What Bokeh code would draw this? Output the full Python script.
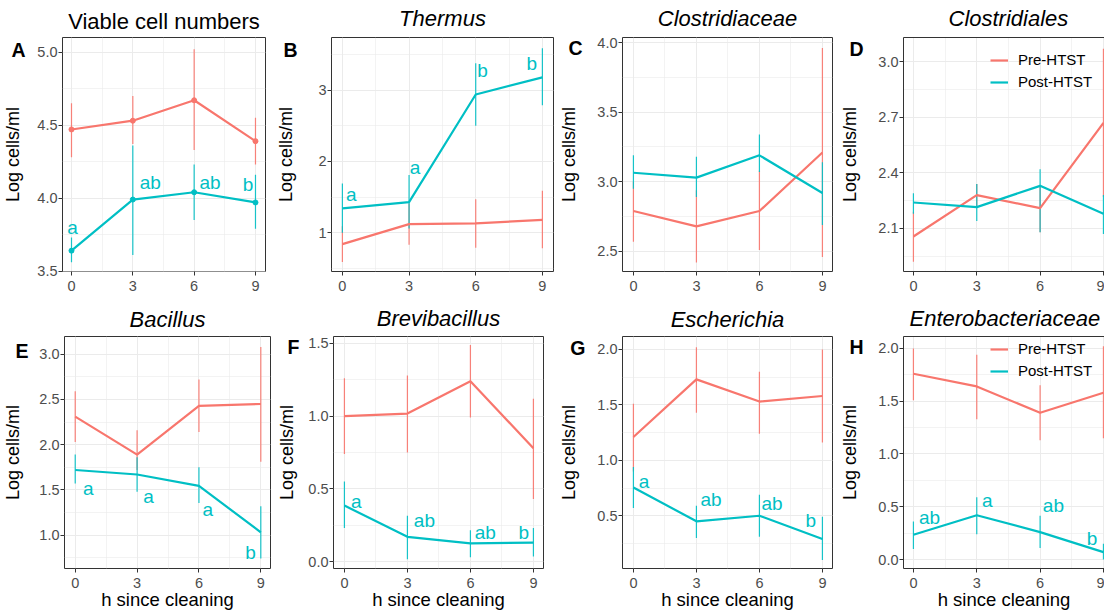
from bokeh.plotting import figure
from bokeh.layouts import column, row
from bokeh.models import (FixedTicker, PrintfTickFormatter, Range1d, Legend, LegendItem,
                          ColumnDataSource, LinearAxis, CustomJSTickFormatter)
from bokeh.core.properties import value
from bokeh.embed import file_html
from bokeh.resources import INLINE

FONT = "Liberation Sans"
PRE_COLOR = "#F8766D"
POST_COLOR = "#00BFC4"
GROUPS = ["Pre-HTST", "Post-HTST"]

# ---------------- data ----------------
hours = [0, 3, 6, 9]
hour_minor = [1.5, 4.5, 7.5]

titles = ["Viable cell numbers", "Thermus", "Clostridiaceae", "Clostridiales",
          "Bacillus", "Brevibacillus", "Escherichia", "Enterobacteriaceae"]
panel_letters = ["A", "B", "C", "D", "E", "F", "G", "H"]

# A  Viable cell numbers
viable_pre = [4.47, 4.53, 4.67, 4.39]
viable_pre_lo = [4.28, 4.37, 4.33, 4.23]
viable_pre_hi = [4.65, 4.70, 5.02, 4.55]
viable_post = [3.64, 3.99, 4.04, 3.97]
viable_post_lo = [3.56, 3.61, 3.85, 3.79]
viable_post_hi = [3.73, 4.36, 4.23, 4.16]
viable_letters = ["a", "ab", "ab", "b"]
viable_letter_x = [0.05, 3.85, 6.78, 8.63]
viable_letter_y = [3.80, 4.11, 4.11, 4.09]
viable_yticks = [3.5, 4.0, 4.5, 5.0]

# B  Thermus
thermus_pre = [0.84, 1.12, 1.13, 1.18]
thermus_pre_lo = [0.59, 0.83, 0.79, 0.78]
thermus_pre_hi = [1.09, 1.41, 1.47, 1.59]
thermus_post = [1.34, 1.43, 2.94, 3.18]
thermus_post_lo = [1.00, 1.06, 2.50, 2.79]
thermus_post_hi = [1.69, 1.81, 3.38, 3.59]
thermus_letters = ["a", "a", "b", "b"]
thermus_letter_x = [0.40, 3.27, 6.31, 8.52]
thermus_letter_y = [1.54, 1.91, 3.27, 3.38]
thermus_yticks = [1, 2, 3]

# C  Clostridiaceae
clostridiaceae_pre = [2.79, 2.68, 2.79, 3.21]
clostridiaceae_pre_lo = [2.57, 2.42, 2.51, 2.46]
clostridiaceae_pre_hi = [3.00, 2.94, 3.08, 3.96]
clostridiaceae_post = [3.065, 3.03, 3.19, 2.92]
clostridiaceae_post_lo = [2.95, 2.89, 3.07, 2.69]
clostridiaceae_post_hi = [3.19, 3.18, 3.34, 3.14]
clostridiaceae_yticks = [2.5, 3.0, 3.5, 4.0]

# D  Clostridiales
clostridiales_pre = [2.057, 2.28, 2.21, 2.67]
clostridiales_pre_lo = [1.92, 2.215, 2.08, 2.27]
clostridiales_pre_hi = [2.19, 2.34, 2.33, 3.07]
clostridiales_post = [2.24, 2.215, 2.33, 2.18]
clostridiales_post_lo = [2.18, 2.14, 2.08, 2.07]
clostridiales_post_hi = [2.29, 2.34, 2.42, 2.28]
clostridiales_yticks = [2.1, 2.4, 2.7, 3.0]

# E  Bacillus
bacillus_pre = [2.31, 1.89, 2.43, 2.45]
bacillus_pre_lo = [2.03, 1.72, 2.14, 1.81]
bacillus_pre_hi = [2.59, 2.16, 2.72, 3.08]
bacillus_post = [1.72, 1.67, 1.545, 1.03]
bacillus_post_lo = [1.57, 1.48, 1.355, 0.74]
bacillus_post_hi = [1.89, 1.86, 1.75, 1.32]
bacillus_letters = ["a", "a", "a", "b"]
bacillus_letter_x = [0.63, 3.55, 6.43, 8.50]
bacillus_letter_y = [1.51, 1.43, 1.28, 0.81]
bacillus_yticks = [1.0, 1.5, 2.0, 2.5, 3.0]

# F  Brevibacillus
brevibacillus_pre = [1.00, 1.018, 1.24, 0.78]
brevibacillus_pre_lo = [0.74, 0.75, 0.99, 0.43]
brevibacillus_pre_hi = [1.26, 1.28, 1.49, 1.12]
brevibacillus_post = [0.385, 0.17, 0.125, 0.13]
brevibacillus_post_lo = [0.23, 0.015, 0.03, 0.035]
brevibacillus_post_hi = [0.55, 0.315, 0.215, 0.23]
brevibacillus_letters = ["a", "ab", "ab", "b"]
brevibacillus_letter_x = [0.57, 3.81, 6.71, 8.54]
brevibacillus_letter_y = [0.41, 0.28, 0.20, 0.20]
brevibacillus_yticks = [0.0, 0.5, 1.0, 1.5]

# G  Escherichia
escherichia_pre = [1.21, 1.73, 1.53, 1.58]
escherichia_pre_lo = [0.90, 1.43, 1.24, 1.16]
escherichia_pre_hi = [1.51, 2.02, 1.80, 2.00]
escherichia_post = [0.755, 0.45, 0.50, 0.29]
escherichia_post_lo = [0.57, 0.30, 0.31, 0.10]
escherichia_post_hi = [0.94, 0.59, 0.69, 0.49]
escherichia_letters = ["a", "ab", "ab", "b"]
escherichia_letter_x = [0.50, 3.70, 6.60, 8.44]
escherichia_letter_y = [0.81, 0.65, 0.61, 0.46]
escherichia_yticks = [0.5, 1.0, 1.5, 2.0]

# H  Enterobacteriaceae
entero_pre = [1.76, 1.64, 1.39, 1.58]
entero_pre_lo = [1.51, 1.33, 1.13, 1.15]
entero_pre_hi = [2.00, 1.94, 1.65, 2.02]
entero_post = [0.235, 0.42, 0.26, 0.07]
entero_post_lo = [0.10, 0.24, 0.11, 0.00]
entero_post_hi = [0.36, 0.59, 0.415, 0.15]
entero_letters = ["ab", "a", "ab", "b"]
entero_letter_x = [0.76, 3.50, 6.63, 8.46]
entero_letter_y = [0.40, 0.56, 0.51, 0.20]
entero_yticks = [0.0, 0.5, 1.0, 1.5, 2.0]

panels = [
    dict(pre=(viable_pre, viable_pre_lo, viable_pre_hi),
         post=(viable_post, viable_post_lo, viable_post_hi),
         letters=(viable_letters, viable_letter_x, viable_letter_y),
         yticks=viable_yticks, fmt="%.1f", points=True),
    dict(pre=(thermus_pre, thermus_pre_lo, thermus_pre_hi),
         post=(thermus_post, thermus_post_lo, thermus_post_hi),
         letters=(thermus_letters, thermus_letter_x, thermus_letter_y),
         yticks=thermus_yticks, fmt="%d", points=False),
    dict(pre=(clostridiaceae_pre, clostridiaceae_pre_lo, clostridiaceae_pre_hi),
         post=(clostridiaceae_post, clostridiaceae_post_lo, clostridiaceae_post_hi),
         letters=None, yticks=clostridiaceae_yticks, fmt="%.1f", points=False),
    dict(pre=(clostridiales_pre, clostridiales_pre_lo, clostridiales_pre_hi),
         post=(clostridiales_post, clostridiales_post_lo, clostridiales_post_hi),
         letters=None, yticks=clostridiales_yticks, fmt="%.1f", points=False),
    dict(pre=(bacillus_pre, bacillus_pre_lo, bacillus_pre_hi),
         post=(bacillus_post, bacillus_post_lo, bacillus_post_hi),
         letters=(bacillus_letters, bacillus_letter_x, bacillus_letter_y),
         yticks=bacillus_yticks, fmt="%.1f", points=False),
    dict(pre=(brevibacillus_pre, brevibacillus_pre_lo, brevibacillus_pre_hi),
         post=(brevibacillus_post, brevibacillus_post_lo, brevibacillus_post_hi),
         letters=(brevibacillus_letters, brevibacillus_letter_x, brevibacillus_letter_y),
         yticks=brevibacillus_yticks, fmt="%.1f", points=False),
    dict(pre=(escherichia_pre, escherichia_pre_lo, escherichia_pre_hi),
         post=(escherichia_post, escherichia_post_lo, escherichia_post_hi),
         letters=(escherichia_letters, escherichia_letter_x, escherichia_letter_y),
         yticks=escherichia_yticks, fmt="%.1f", points=False),
    dict(pre=(entero_pre, entero_pre_lo, entero_pre_hi),
         post=(entero_post, entero_post_lo, entero_post_hi),
         letters=(entero_letters, entero_letter_x, entero_letter_y),
         yticks=entero_yticks, fmt="%.1f", points=False),
]

# ---------------- layout (sizes / positions) ----------------
# box = (width, height, border_left, border_right, border_top, border_bottom)
# ts = title standoff, lst = panel-letter standoff, ls = y-title standoff, dy = letter drop
geometry = [
    dict(box=(270, 298, 61, 5, 34, 25), xr=(-0.44, 9.49), yr=(3.497, 5.10), ts=4, lst=9, ls=-15, dy=12.5),
    dict(box=(286, 298, 61, 3, 36, 27), xr=(-0.49, 9.50), yr=(0.455, 3.74), ts=10, lst=18, ls=-16, dy=12.3),
    dict(box=(280, 298, 66, 4, 37, 27), xr=(-0.52, 9.48), yr=(2.356, 4.036), ts=10, lst=12, ls=-14, dy=10.5),
    dict(box=(268, 298, 67, 0, 37, 27), xr=(-0.47, 9.05), yr=(1.868, 3.13), ts=10, lst=12, ls=-14, dy=11.3,
         clip=True, toff=45, leg=(87, 181)),
    dict(box=(272, 314, 59, 2, 36, 43), xr=(-0.52, 9.47), yr=(0.63, 3.197), ts=5, lst=8, ls=-11, dy=15.0),
    dict(box=(284, 314, 61, 13, 38, 43), xr=(-0.52, 9.48), yr=(-0.048, 1.548), ts=8, lst=6, ls=-12, dy=10.7),
    dict(box=(280, 314, 66, 4, 38, 43), xr=(-0.52, 9.48), yr=(0.024, 2.117), ts=5, lst=9, ls=-12, dy=11.5),
    dict(box=(268, 314, 67, 0, 38, 43), xr=(-0.47, 9.05), yr=(-0.085, 2.113), ts=8, lst=12, ls=-14, dy=11.0,
         clip=True, toff=6, leg=(87, 189)),
]


def minor_between(ticks, lo, hi):
    step = ticks[1] - ticks[0]
    cands = [ticks[0] - step / 2] + [t + step / 2 for t in ticks]
    return [c for c in cands if lo <= c <= hi]


def build(i):
    d = panels[i]
    g = geometry[i]
    clip = g.get("clip", False)
    w, h, bl, br, bt, bb = g["box"]
    fh = h - bt - bb
    y0, y1 = g["yr"]
    p = figure(width=w, height=h, x_range=Range1d(*g["xr"]), y_range=Range1d(y0, y1),
               output_backend="svg", toolbar_location=None,
               min_border_left=bl, min_border_right=br, min_border_top=bt, min_border_bottom=bb,
               background_fill_color="white", border_fill_color="white",
               outline_line_color=None if clip else "#333333", outline_line_width=1)

    # title
    p.title.text = titles[i]
    p.title.text_font = FONT
    p.title.text_font_size = "22px"
    p.title.text_font_style = "normal" if i == 0 else "italic"
    p.title.text_color = "black"
    p.title.vertical_align = "top"
    p.title.standoff = g["ts"]
    if clip:
        p.title.align = "left"
        p.title.offset = g["toff"]
    else:
        p.title.align = "center"

    xax = p.below[0]
    yax = p.left[0]
    xax.ticker = FixedTicker(ticks=hours, minor_ticks=hour_minor)
    yax.ticker = FixedTicker(ticks=d["yticks"], minor_ticks=minor_between(d["yticks"], y0, y1))
    yax.formatter = PrintfTickFormatter(format=d["fmt"])
    for ax in (xax, yax):
        ax.axis_line_color = "#333333" if clip else None
        ax.axis_line_width = 1
        ax.major_tick_line_color = "#333333"
        ax.major_tick_out = 4
        ax.major_tick_in = 0
        ax.minor_tick_line_color = None
        ax.minor_tick_out = 0
        ax.minor_tick_in = 0
        ax.major_label_text_font = FONT
        ax.major_label_text_font_size = "14.5px"
        ax.major_label_text_color = "#4D4D4D"
    yax.major_label_standoff = 1
    xax.major_label_standoff = 5
    if i >= 4:
        xax.axis_label = "h since cleaning"
        xax.axis_label_text_font = FONT
        xax.axis_label_text_font_size = "18.5px"
        xax.axis_label_text_font_style = "normal"
        xax.axis_label_text_color = "black"
        xax.axis_label_standoff = -2

    # outer left axis: carries the panel letter (as its only tick label) and the y title
    letter_y = y1 - g["dy"] * (y1 - y0) / fh
    outer = LinearAxis(ticker=FixedTicker(ticks=[letter_y]),
                       formatter=CustomJSTickFormatter(code="return '%s';" % panel_letters[i]),
                       axis_line_color=None, major_tick_line_color=None, minor_tick_line_color=None,
                       major_tick_out=0, major_tick_in=0, minor_tick_out=0, minor_tick_in=0,
                       major_label_standoff=g["lst"],
                       major_label_text_font=FONT, major_label_text_font_style="bold",
                       major_label_text_font_size="19.5px", major_label_text_color="black",
                       axis_label="Log cells/ml", axis_label_text_font=FONT,
                       axis_label_text_font_size="18px", axis_label_text_font_style="normal",
                       axis_label_text_color="black", axis_label_standoff=g["ls"])
    p.add_layout(outer, "left")

    if clip:
        top = LinearAxis(ticker=FixedTicker(ticks=[]), axis_line_color="#333333", axis_line_width=1,
                         major_tick_line_color=None, minor_tick_line_color=None,
                         major_tick_out=0, major_tick_in=0, minor_tick_out=0, minor_tick_in=0,
                         major_label_standoff=0, major_label_text_font_size="0px")
        p.add_layout(top, "above")

    # grids
    for gr in (p.xgrid, p.ygrid):
        gr.grid_line_color = "#EBEBEB"
        gr.grid_line_width = 1
        gr.minor_grid_line_color = "#EBEBEB"
        gr.minor_grid_line_width = 0.6

    # error bars (both groups), then lines
    series = [(GROUPS[0], PRE_COLOR, d["pre"]), (GROUPS[1], POST_COLOR, d["post"])]
    srcs = []
    for name, color, (mean, lo, hi) in series:
        src = ColumnDataSource(dict(x=hours, y=mean, lo=lo, hi=hi))
        srcs.append(src)
        p.segment(x0="x", y0="lo", x1="x", y1="hi", source=src,
                  line_color=color, line_width=1.2, line_alpha=0.9)
    lines = []
    pts = []
    for (name, color, _), src in zip(series, srcs):
        lines.append(p.line(x="x", y="y", source=src, line_color=color, line_width=2.2))
    for (name, color, _), src in zip(series, srcs):
        if d["points"]:
            pts.append(p.scatter(x="x", y="y", source=src, size=5, fill_color=color,
                                 line_color=color))
        else:
            empty = ColumnDataSource(dict(x=[], y=[]))
            pts.append(p.scatter(x="x", y="y", source=empty, size=5, fill_color=color,
                                 line_color=color))

    # significance letters
    if d["letters"] is not None:
        lt, lx, ly = d["letters"]
        lsrc = ColumnDataSource(dict(x=lx, y=ly, text=lt))
        p.text(x="x", y="y", text="text", source=lsrc, text_color=POST_COLOR,
               text_font=value(FONT), text_font_size="19px",
               text_align="center", text_baseline="middle")

    # legend
    if "leg" in g:
        items = [LegendItem(label=GROUPS[k], renderers=[lines[k], pts[k]]) for k in range(2)]
        leg = Legend(items=items, location=g["leg"], background_fill_alpha=0,
                     border_line_color=None, label_text_font=FONT,
                     label_text_font_size="15px", label_text_color="black",
                     glyph_width=18, glyph_height=16, label_height=16, spacing=5,
                     padding=0, margin=0, label_standoff=10)
        p.add_layout(leg)
    return p


figs = [build(i) for i in range(8)]
layout = column(row(*figs[:4], spacing=0), row(*figs[4:], spacing=0), spacing=0)

open("out.html", "w").write(file_html(layout, INLINE))
